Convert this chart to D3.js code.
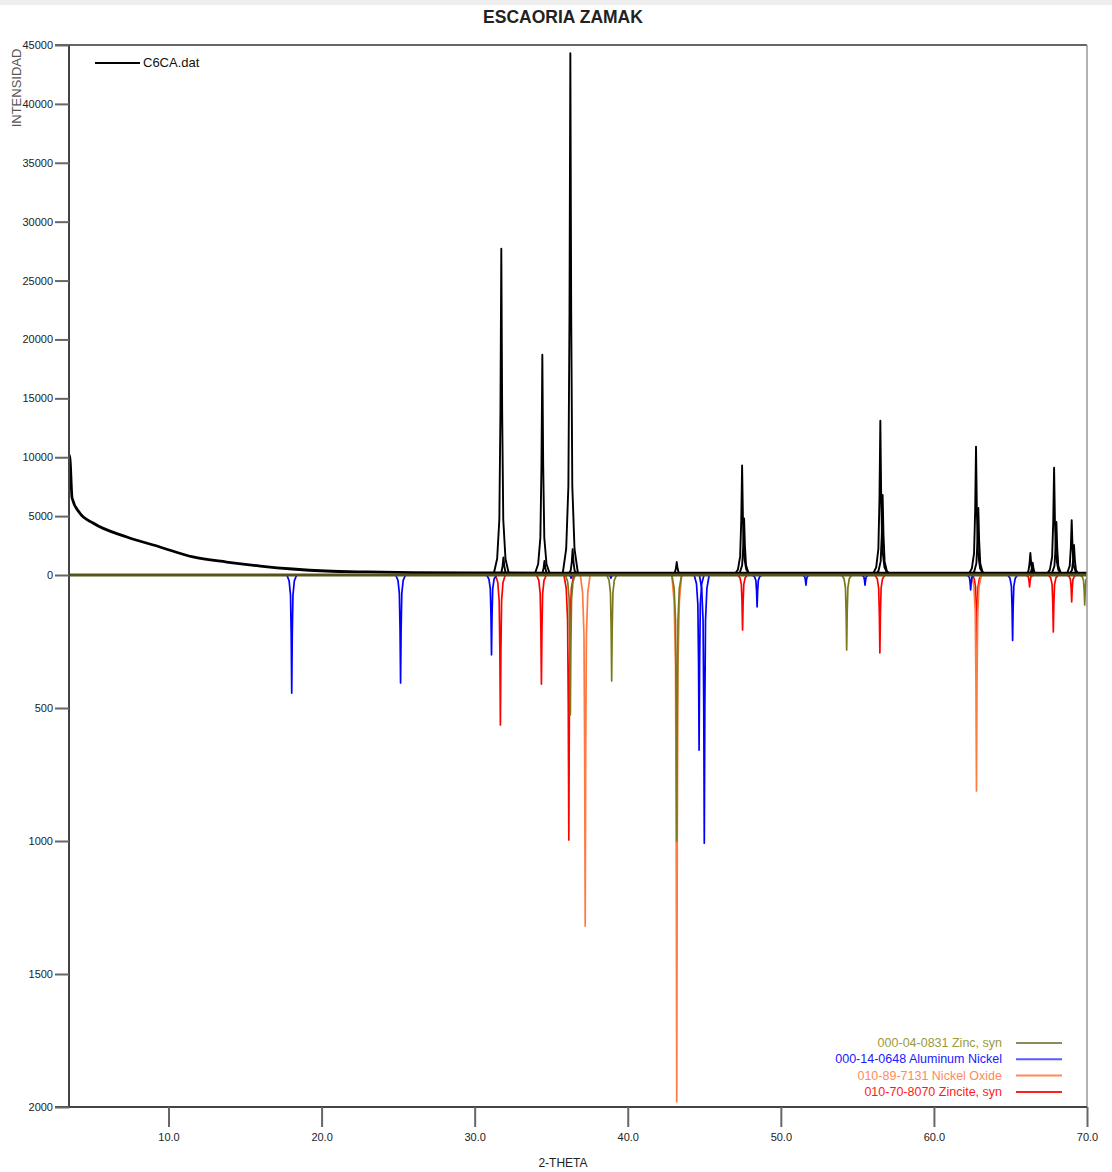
<!DOCTYPE html>
<html>
<head>
<meta charset="utf-8">
<script src="https://cdn.jsdelivr.net/npm/d3@7"></script>
<style>
  body { margin: 0; background: #fff; }
  text { font-family: "Liberation Sans", Arial, sans-serif; }
</style>
</head>
<body>
<svg id="chart"></svg>
<script>
// Measured pattern (C6CA.dat): background points [2theta, counts]
const background = [
  [3.5, 10200], [3.57, 9760], [3.7, 6540], [4.2, 5260], [5.07, 4415],
  [7.28, 3230], [9.44, 2380], [11.6, 1530], [13.8, 1100], [16.0, 760],
  [18.1, 510], [20.3, 340], [23.0, 260], [26.0, 210], [30.0, 180],
  [40.0, 160], [50.0, 150], [60.0, 150], [70.0, 150]
];
// Measured peaks [2theta, counts] (incl. K-alpha2 shoulders)
const measuredPeaks = [
  [31.74, 27700], [31.88, 1500], [34.42, 18700], [34.56, 1200],
  [36.25, 44300], [36.4, 2200], [43.2, 1100],
  [47.47, 9300], [47.6, 4800], [56.5, 13100], [56.65, 6800],
  [62.75, 10900], [62.9, 5700], [66.3, 1870], [66.45, 1050],
  [67.85, 9100], [68.0, 4500], [69.0, 4650], [69.15, 2550]
];

// Reference patterns (drawn downwards) [2theta, intensity]
const zincSyn = [[36.25, 526], [38.95, 398], [43.2, 1000], [54.3, 282], [69.85, 113]];
const aluminumNickel = [
  [18.05, 444], [25.16, 406], [31.1, 300], [36.3, 12], [38.9, 12],
  [44.66, 658], [45.0, 1008], [48.45, 120], [51.64, 38], [55.5, 38],
  [62.4, 56], [65.14, 246]
];
const nickelOxide = [[37.22, 1320], [43.2, 1980], [62.78, 812]];
const zincite = [
  [31.68, 564], [34.36, 410], [36.15, 996], [47.5, 207], [56.47, 293],
  [62.8, 270], [66.25, 45], [67.8, 214], [69.0, 101]
];

const upperTicks = [0, 5000, 10000, 15000, 20000, 25000, 30000, 35000, 40000, 45000];
const lowerTicks = [500, 1000, 1500, 2000];
const xTicks = [10, 20, 30, 40, 50, 60, 70];

const phases = [
  { name: "010-70-8070 Zincite, syn", data: zincite, color: "#ff0000", text: "#ff1a1a", key: "#ff2020" },
  { name: "010-89-7131 Nickel Oxide", data: nickelOxide, color: "#ff7a40", text: "#ff8a5a", key: "#ff8a5a" },
  { name: "000-14-0648 Aluminum Nickel", data: aluminumNickel, color: "#0000ff", text: "#2020ff", key: "#5a5aff" },
  { name: "000-04-0831 Zinc, syn", data: zincSyn, color: "#7a7a1a", text: "#9a9a40", key: "#8c8c5a" }
];

const W = 1112, H = 1172;
const svg = d3.select("#chart").attr("width", W).attr("height", H);

const x = d3.scaleLinear().domain([3.5, 70]).range([69, 1087]);
const yUp = d3.scaleLinear().domain([0, 45000]).range([575, 45]);
const yDown = d3.scaleLinear().domain([0, 2000]).range([575, 1107]);

// thin grey band at the very top of the capture
svg.append("rect").attr("x", 0).attr("y", 0).attr("width", W).attr("height", 5).attr("fill", "#eeeeee");

svg.append("defs").append("clipPath").attr("id", "plot")
  .append("rect").attr("x", x.range()[0]).attr("y", 40)
  .attr("width", x.range()[1] - x.range()[0]).attr("height", 1107 - 40);

// peak profile shape: [offset in degrees, fraction of height]
const shape = [[-0.32, 0], [-0.17, 0.05], [-0.08, 0.17], [-0.035, 0.5], [0, 1],
               [0.035, 0.5], [0.08, 0.17], [0.17, 0.05], [0.32, 0]];

const plot = svg.append("g").attr("clip-path", "url(#plot)");

// measured pattern
plot.append("path")
  .datum(background)
  .attr("d", d3.line().x(d => x(d[0])).y(d => yUp(d[1])).curve(d3.curveMonotoneX))
  .attr("fill", "none").attr("stroke", "#000").attr("stroke-width", 2.8);

const upLine = d3.line().x(d => x(d[0])).y(d => yUp(d[1]));
plot.selectAll(".mpeak")
  .data(measuredPeaks)
  .enter().append("path")
  .attr("class", "mpeak")
  .attr("d", p => upLine(shape.map(s => [p[0] + s[0] * 1.6, p[1] * s[1]])))
  .attr("fill", "none").attr("stroke", "#000").attr("stroke-width", 1.9)
  .attr("stroke-linejoin", "round");

// reference patterns
const downLine = d3.line().x(d => x(d[0])).y(d => yDown(d[1]));
phases.forEach(ph => {
  plot.selectAll(null)
    .data(ph.data)
    .enter().append("path")
    .attr("d", p => downLine(shape.map(s => [p[0] + s[0], p[1] * s[1]])))
    .attr("fill", "none").attr("stroke", ph.color).attr("stroke-width", 1.7)
    .attr("stroke-linejoin", "round");
});

// zero line
svg.append("line")
  .attr("x1", x(3.5)).attr("x2", x(70)).attr("y1", yUp(0)).attr("y2", yUp(0))
  .attr("stroke", "#55551a").attr("stroke-width", 3);

// frame
svg.append("line").attr("x1", 55).attr("x2", x(70)).attr("y1", yUp(45000)).attr("y2", yUp(45000))
  .attr("stroke", "#666").attr("stroke-width", 2);
svg.append("line").attr("x1", x(70)).attr("x2", x(70)).attr("y1", yUp(45000)).attr("y2", yDown(2000))
  .attr("stroke", "#999").attr("stroke-width", 1.5);
svg.append("line").attr("x1", x(3.5)).attr("x2", x(3.5)).attr("y1", yUp(45000)).attr("y2", yDown(2000))
  .attr("stroke", "#444").attr("stroke-width", 2);
svg.append("line").attr("x1", 55).attr("x2", x(70)).attr("y1", yDown(2000)).attr("y2", yDown(2000))
  .attr("stroke", "#444").attr("stroke-width", 2);

// axes
function styleAxis(g) {
  g.select(".domain").remove();
  g.selectAll(".tick line").attr("stroke", "#666").attr("stroke-width", 2);
  g.selectAll(".tick text").attr("fill", "#222").style("font-size", "11px");
}
svg.append("g").attr("transform", `translate(${x(3.5)},0)`)
  .call(d3.axisLeft(yUp).tickValues(upperTicks).tickSize(14).tickPadding(2).tickFormat(d3.format("d")))
  .call(styleAxis);
svg.append("g").attr("transform", `translate(${x(3.5)},0)`)
  .call(d3.axisLeft(yDown).tickValues(lowerTicks).tickSize(14).tickPadding(2).tickFormat(d3.format("d")))
  .call(styleAxis);
svg.append("g").attr("transform", `translate(0,${yDown(2000)})`)
  .call(d3.axisBottom(x).tickValues(xTicks).tickSize(20).tickPadding(6).tickFormat(d3.format(".1f")))
  .call(styleAxis);

// titles
svg.append("text").attr("x", 563).attr("y", 23).attr("text-anchor", "middle")
  .style("font-size", "17.5px").style("font-weight", "bold").attr("fill", "#222")
  .text("ESCAORIA ZAMAK");
svg.append("text").attr("x", 563).attr("y", 1167).attr("text-anchor", "middle")
  .style("font-size", "12px").attr("fill", "#222").text("2-THETA");
svg.append("text").attr("transform", "translate(21,88) rotate(-90)").attr("text-anchor", "middle")
  .style("font-size", "13px").attr("fill", "#555").text("INTENSIDAD");

// legend for measured data
svg.append("line").attr("x1", 95).attr("x2", 140).attr("y1", 63).attr("y2", 63)
  .attr("stroke", "#000").attr("stroke-width", 2);
svg.append("text").attr("x", 143).attr("y", 67).style("font-size", "13px").attr("fill", "#111")
  .text("C6CA.dat");

// legend for reference patterns
const legendRows = phases.slice().reverse();
const leg = svg.append("g");
legendRows.forEach((ph, i) => {
  const yy = 1043 + i * 16.3;
  leg.append("text").attr("x", 1002).attr("y", yy + 4).attr("text-anchor", "end")
    .style("font-size", "12.5px").attr("fill", ph.text).text(ph.name);
  leg.append("line").attr("x1", 1016).attr("x2", 1062).attr("y1", yy).attr("y2", yy)
    .attr("stroke", ph.key).attr("stroke-width", 2);
});
</script>
</body>
</html>
